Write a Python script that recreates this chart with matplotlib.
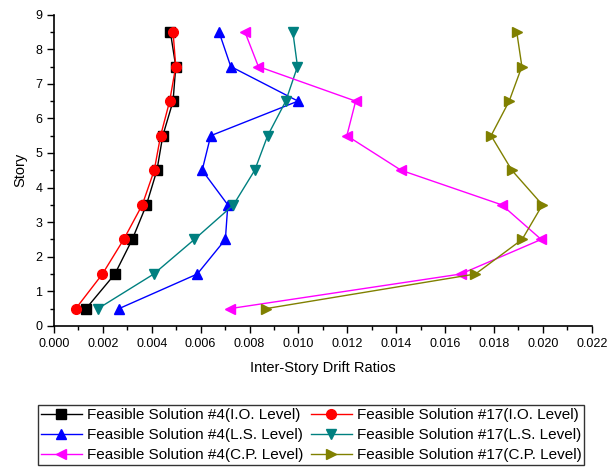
import numpy as np
import matplotlib.pyplot as plt
from matplotlib.ticker import MultipleLocator

plt.rcParams['font.family'] = ['Liberation Sans', 'DejaVu Sans']

story = [0.5, 1.5, 2.5, 3.5, 4.5, 5.5, 6.5, 7.5, 8.5]

io_4 = [0.00131, 0.00249, 0.00320, 0.00378, 0.00421, 0.00445, 0.00487, 0.00498, 0.00476]
io_17 = [0.00089, 0.00198, 0.00285, 0.00361, 0.00410, 0.00436, 0.00473, 0.00498, 0.00487]
ls_4 = [0.00266, 0.00586, 0.00701, 0.00711, 0.00606, 0.00641, 0.00998, 0.00723, 0.00675]
ls_17 = [0.00180, 0.00408, 0.00574, 0.00734, 0.00821, 0.00874, 0.00948, 0.00996, 0.00977]
cp_4 = [0.00720, 0.01664, 0.01993, 0.01832, 0.01420, 0.01198, 0.01234, 0.00836, 0.00781]
cp_17 = [0.00867, 0.01724, 0.01915, 0.01998, 0.01873, 0.01788, 0.01862, 0.01914, 0.01893]

labels = ['Feasible Solution #4(I.O. Level)', 'Feasible Solution #17(I.O. Level)',
          'Feasible Solution #4(L.S. Level)', 'Feasible Solution #17(L.S. Level)',
          'Feasible Solution #4(C.P. Level)', 'Feasible Solution #17(C.P. Level)']

fig = plt.figure(figsize=(6.16, 4.73), dpi=100)
ax = fig.add_axes([0.0877, 0.311, 0.873, 0.658])

styles = [('black', 's'), ('red', 'o'), ('blue', '^'), ('#008080', 'v'), ('magenta', '<'), ('#808000', '>')]
series = [io_4, io_17, ls_4, ls_17, cp_4, cp_17]
lines = []
for vals, (c, m), lab in zip(series, styles, labels):
    l, = ax.plot(vals, story, color=c, marker=m, markersize=7, linewidth=1, label=lab)
    lines.append(l)

ax.set_xlim(0, 0.022)
ax.set_ylim(0, 9)
ax.xaxis.set_major_locator(MultipleLocator(0.002))
ax.xaxis.set_minor_locator(MultipleLocator(0.001))
ax.yaxis.set_major_locator(MultipleLocator(1))
ax.yaxis.set_minor_locator(MultipleLocator(0.5))
ax.xaxis.set_major_formatter(plt.FormatStrFormatter('%.3f'))
ax.tick_params(which='major', length=5, width=1, labelsize=9, direction='out')
ax.tick_params(which='minor', length=3, width=1, direction='out')
ax.spines['top'].set_visible(False)
ax.spines['right'].set_visible(False)
ax.spines['left'].set_linewidth(1.2)
ax.spines['bottom'].set_linewidth(1.2)
ax.set_xlabel('Inter-Story Drift Ratios', fontsize=10.5, labelpad=8)
ax.set_ylabel('Story', fontsize=10.5, labelpad=6)

order = [0, 2, 4, 1, 3, 5]
leg = fig.legend([lines[i] for i in order], [labels[i] for i in order], ncol=2,
                 loc='lower center', bbox_to_anchor=(0.505, 0.0), fontsize=11,
                 frameon=True, fancybox=False, edgecolor='black', handlelength=2.7,
                 columnspacing=0.5, handletextpad=0.3, labelspacing=0.4, borderpad=0.2)
leg.get_frame().set_linewidth(1)

fig.savefig('out.png', dpi=100)
